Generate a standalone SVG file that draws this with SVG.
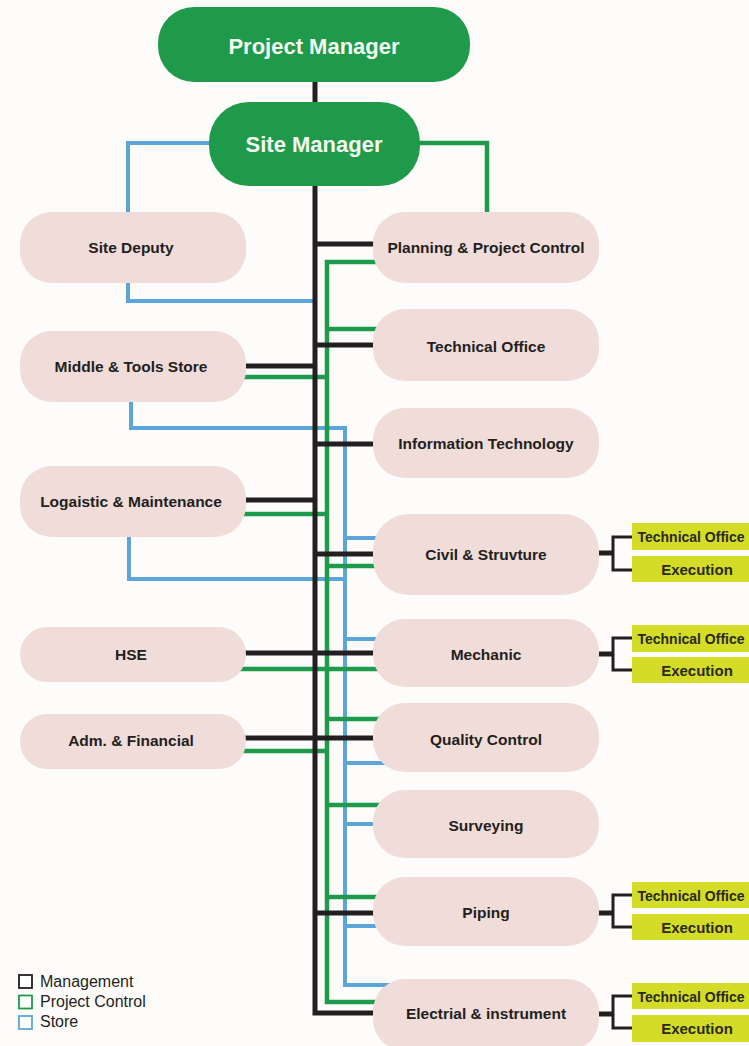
<svg xmlns="http://www.w3.org/2000/svg" width="749" height="1046" viewBox="0 0 749 1046">
<style>
.bg{fill:#fdfcfa}
.top{fill:#1f9a4a}
.pk{fill:#f0dcd9}
.yl{fill:#d4dc28}
.tt{font-family:"Liberation Sans",Arial,sans-serif;font-weight:bold;font-size:22px;fill:#f4faf2;text-anchor:middle}
.t{font-family:"Liberation Sans",Arial,sans-serif;font-weight:bold;font-size:15.5px;fill:#231f20;text-anchor:middle}
.ty{font-family:"Liberation Sans",Arial,sans-serif;font-weight:bold;font-size:15px;fill:#2a2a1c;text-anchor:middle}
.tyo{font-family:"Liberation Sans",Arial,sans-serif;font-weight:bold;font-size:14px;fill:#2a2a1c;text-anchor:middle}
.lg{font-family:"Liberation Sans",Arial,sans-serif;font-size:16px;fill:#231f20}
.k{fill:none;stroke:#231f20;stroke-width:5}
.kb{fill:none;stroke:#231f20;stroke-width:3}
.g{fill:none;stroke:#1f9a4a;stroke-width:4.5}
.b{fill:none;stroke:#5ba5d9;stroke-width:4}
</style>
<rect class="bg" x="0" y="0" width="749" height="1046"/>
<g id="connectors">
  <!-- Store (blue) -->
  <path class="b" d="M215,143 H128 V220"/>
  <path class="b" d="M128,275 V301 H315"/>
  <path class="b" d="M131,395 V428 H345 V985 H395"/>
  <path class="b" d="M129,530 V579 H345"/>
  <path class="b" d="M345,538 H390"/>
  <path class="b" d="M345,639 H390"/>
  <path class="b" d="M345,763 H395"/>
  <path class="b" d="M345,824 H390"/>
  <path class="b" d="M345,926 H390"/>
  <!-- Project Control (green) -->
  <path class="g" d="M410,143 H487 V220"/>
  <path class="g" d="M390,262 H327 V1002 H390"/>
  <path class="g" d="M327,329 H390"/>
  <path class="g" d="M235,377 H327"/>
  <path class="g" d="M235,514 H327"/>
  <path class="g" d="M327,566 H390"/>
  <path class="g" d="M235,669 H390"/>
  <path class="g" d="M327,719 H390"/>
  <path class="g" d="M235,751 H327"/>
  <path class="g" d="M327,805 H395"/>
  <path class="g" d="M327,897 H390"/>
  <!-- Management (black) -->
  <path class="k" d="M315,75 V1013 H390"/>
  <path class="k" d="M315,244 H390"/>
  <path class="k" d="M315,345 H390"/>
  <path class="k" d="M235,366 H315"/>
  <path class="k" d="M315,444 H390"/>
  <path class="k" d="M235,500 H315"/>
  <path class="k" d="M315,554 H390"/>
  <path class="k" d="M235,653 H390"/>
  <path class="k" d="M235,738 H390"/>
  <path class="k" d="M315,913 H390"/>
  <!-- brackets to sub-units -->
  <path class="k" d="M590,553 H614"/>
  <path class="kb" d="M633,537 H613 V570 H633"/>
  <path class="k" d="M590,654 H614"/>
  <path class="kb" d="M633,638 H613 V670 H633"/>
  <path class="k" d="M590,913 H614"/>
  <path class="kb" d="M633,895 H613 V927 H633"/>
  <path class="k" d="M590,1014 H614"/>
  <path class="kb" d="M633,996 H613 V1028 H633"/>
</g>
<g id="project-manager"><rect class="top" x="158" y="7" width="312" height="75" rx="36"/><text class="tt" x="314" y="54">Project Manager</text></g>
<g id="site-manager"><rect class="top" x="209" y="102" width="211" height="84" rx="40"/><text class="tt" x="314" y="152">Site Manager</text></g>
<g id="site-deputy"><rect class="pk" x="20" y="212" width="226" height="71" rx="32"/><text class="t" x="131" y="253">Site Deputy</text></g>
<g id="planning"><rect class="pk" x="373" y="212" width="226" height="71" rx="32"/><text class="t" x="486" y="253">Planning &amp; Project Control</text></g>
<g id="technical-office"><rect class="pk" x="373" y="309" width="226" height="72" rx="32"/><text class="t" x="486" y="352">Technical Office</text></g>
<g id="middle-tools-store"><rect class="pk" x="20" y="331" width="226" height="71" rx="32"/><text class="t" x="131" y="372">Middle &amp; Tools Store</text></g>
<g id="information-technology"><rect class="pk" x="373" y="408" width="226" height="70" rx="32"/><text class="t" x="486" y="449">Information Technology</text></g>
<g id="logistic-maintenance"><rect class="pk" x="20" y="466" width="226" height="71" rx="32"/><text class="t" x="131" y="507">Logaistic &amp; Maintenance</text></g>
<g id="civil"><rect class="pk" x="373" y="514" width="226" height="81" rx="36"/><text class="t" x="486" y="560">Civil &amp; Struvture</text></g>
<g id="hse"><rect class="pk" x="20" y="627" width="226" height="55" rx="27"/><text class="t" x="131" y="660">HSE</text></g>
<g id="mechanic"><rect class="pk" x="373" y="619" width="226" height="68" rx="32"/><text class="t" x="486" y="660">Mechanic</text></g>
<g id="adm-financial"><rect class="pk" x="20" y="714" width="226" height="55" rx="27"/><text class="t" x="131" y="746">Adm. &amp; Financial</text></g>
<g id="quality-control"><rect class="pk" x="373" y="703" width="226" height="69" rx="32"/><text class="t" x="486" y="745">Quality Control</text></g>
<g id="surveying"><rect class="pk" x="373" y="790" width="226" height="68" rx="32"/><text class="t" x="486" y="831">Surveying</text></g>
<g id="piping"><rect class="pk" x="373" y="877" width="226" height="69" rx="32"/><text class="t" x="486" y="918">Piping</text></g>
<g id="electrical"><rect class="pk" x="373" y="979" width="226" height="72" rx="32"/><text class="t" x="486" y="1019">Electrial &amp; instrument</text></g>
<g id="civil-sub"><rect class="yl" x="632" y="523" width="130" height="27"/><text class="tyo" x="691" y="541.5">Technical Office</text><rect class="yl" x="632" y="556" width="130" height="26"/><text class="ty" x="697" y="575">Execution</text></g>
<g id="mechanic-sub"><rect class="yl" x="632" y="625" width="130" height="27"/><text class="tyo" x="691" y="643.5">Technical Office</text><rect class="yl" x="632" y="657" width="130" height="26"/><text class="ty" x="697" y="676">Execution</text></g>
<g id="piping-sub"><rect class="yl" x="632" y="882" width="130" height="26"/><text class="tyo" x="691" y="900.5">Technical Office</text><rect class="yl" x="632" y="914" width="130" height="26"/><text class="ty" x="697" y="933">Execution</text></g>
<g id="electrical-sub"><rect class="yl" x="632" y="983" width="130" height="26"/><text class="tyo" x="691" y="1001.5">Technical Office</text><rect class="yl" x="632" y="1015" width="130" height="27"/><text class="ty" x="697" y="1034">Execution</text></g>
<g id="legend">
  <rect x="19" y="975" width="13" height="13" fill="#fff" stroke="#231f20" stroke-width="1.8"/>
  <text class="lg" x="40" y="987">Management</text>
  <rect x="19" y="995.5" width="13" height="13" fill="#fff" stroke="#1f9a4a" stroke-width="1.8"/>
  <text class="lg" x="40" y="1007">Project Control</text>
  <rect x="19" y="1016" width="13" height="13" fill="#fff" stroke="#5ba5d9" stroke-width="1.8"/>
  <text class="lg" x="40" y="1027">Store</text>
</g>
</svg>
